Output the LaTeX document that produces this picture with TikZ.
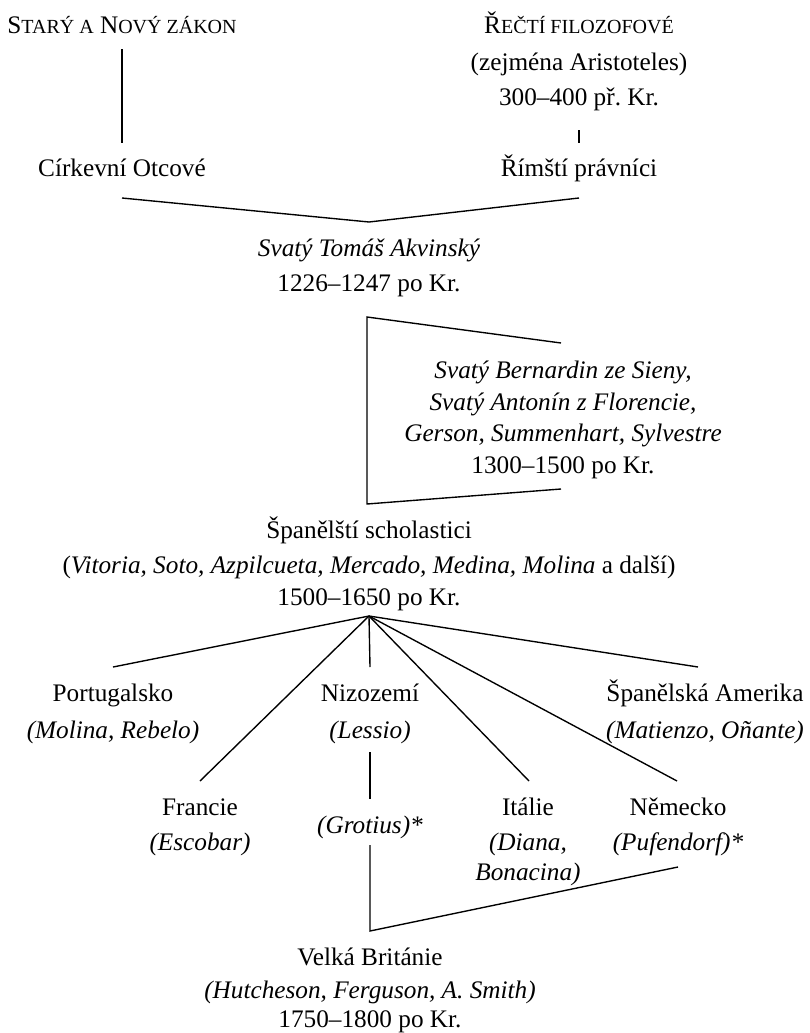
\documentclass[tikz,border=0pt]{standalone}
\usepackage{fontspec}
\setmainfont{Liberation Serif}
\frenchspacing
\newcommand{\fakesc}[1]{{\fontsize{8.0}{9}\selectfont #1}}
\begin{document}
\begin{tikzpicture}[x=0.4pt,y=-0.4pt,
  lbl/.style={anchor=base,inner sep=0pt,font=\fontsize{10.1}{12}\selectfont},
  it/.style={lbl,font=\fontsize{10.1}{12}\selectfont\itshape},
  ln/.style={line width=0.55pt,line join=miter}]
\useasboundingbox (0,0) rectangle (810,1033);
% top
\node[lbl] (snz) at (122,33) {S\fakesc{TARÝ A} N\fakesc{OVÝ ZÁKON}};
\node[lbl] (rf1) at (579,33) {Ř\fakesc{EČTÍ FILOZOFOVÉ}};
\node[lbl] (rf2) at (579,70) {(zejména Aristoteles)};
\node[lbl] (rf3) at (579,105) {300–400 př.\ Kr.};
\node[lbl] (co) at (122,176) {Církevní Otcové};
\node[lbl] (rp) at (579,176) {Římští právníci};
\node[it] (st1) at (369,256) {Svatý Tomáš Akvinský};
\node[lbl] (st2) at (369,291) {1226–1247 po Kr.};
\node[it] (sb1) at (563,378) {Svatý Bernardin ze Sieny,};
\node[it] (sb2) at (563,410) {Svatý Antonín z Florencie,};
\node[it] (sb3) at (563,441) {Gerson, Summenhart, Sylvestre};
\node[lbl] (sb4) at (563,473) {1300–1500 po Kr.};
\node[lbl] (ss1) at (369,538) {Španělští scholastici};
\node[lbl] (ss2) at (369,573) {(\textit{Vitoria, Soto, Azpilcueta, Mercado, Medina, Molina} a další)};
\node[lbl] (ss3) at (369,605) {1500–1650 po Kr.};
\node[lbl] (pt1) at (113,701) {Portugalsko};
\node[it] (pt2) at (113,738) {(Molina, Rebelo)};
\node[lbl] (nz1) at (370,701) {Nizozemí};
\node[it] (nz2) at (370,738) {(Lessio)};
\node[lbl] (sa1) at (705,701) {Španělská Amerika};
\node[it] (sa2) at (705,738) {(Matienzo, Oñante)};
\node[lbl] (fr1) at (200,815) {Francie};
\node[it] (fr2) at (200,850) {(Escobar)};
\node[it] (gr) at (370,833) {(Grotius)*};
\node[lbl] (it1) at (528,815) {Itálie};
\node[it] (it2) at (528,850) {(Diana,};
\node[it] (it3) at (528,880) {Bonacina)};
\node[lbl] (de1) at (678,815) {Německo};
\node[it] (de2) at (678,850) {(Pufendorf)*};
\node[lbl] (vb1) at (370,965) {Velká Británie};
\node[it] (vb2) at (370,998) {(Hutcheson, Ferguson, A. Smith)};
\node[lbl] (vb3) at (370,1027) {1750–1800 po Kr.};
% connector points
\coordinate (a1) at (122,49);  \coordinate (a2) at (122,143);
\coordinate (b1) at (579,130); \coordinate (b2) at (579,143);
\coordinate (v1) at (122,198); \coordinate (v2) at (369,222); \coordinate (v3) at (579,198);
\coordinate (k1) at (561,343); \coordinate (k2) at (367,317);
\coordinate (k3) at (367,504); \coordinate (k4) at (561,489);
\coordinate (ap) at (369,616);
\coordinate (e1) at (113,667); \coordinate (e2) at (370,667); \coordinate (e3) at (698,667);
\coordinate (e4) at (200,781); \coordinate (e5) at (529,781); \coordinate (e6) at (677,781);
\coordinate (g1) at (370,752); \coordinate (g2) at (370,799);
\coordinate (h1) at (370,845); \coordinate (h2) at (370,931); \coordinate (h3) at (678,867);
% connectors
\draw[ln] (a1) -- (a2);
\draw[ln] (b1) -- (b2);
\draw[ln] (v1) -- (v2) -- (v3);
\draw[ln] (k1) -- (k2) -- (k3) -- (k4);
\foreach \e in {e1,e2,e3,e4,e5,e6} \draw[ln] (ap) -- (\e);
\draw[ln] (g1) -- (g2);
\draw[ln] (h1) -- (h2) -- (h3);
\end{tikzpicture}
\end{document}
